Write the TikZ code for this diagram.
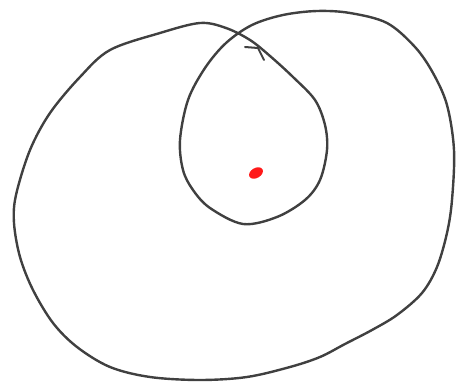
\documentclass[tikz,border=0pt]{standalone}
\begin{document}
\begin{tikzpicture}[x=1pt,y=-1pt]
  \useasboundingbox (0,0) rectangle (459,382);
  % Curva chiusa con anello interno
  \draw[line width=2.4pt, black!75, line cap=round, line join=round]
    plot[smooth cycle, tension=0.55] coordinates {
      (226,28) (200,23) (160,33) (110,50) (80,77) (50,113) (30,150)
      (16,195) (14,223) (20,257) (33,290) (53,323) (77,347) (110,367)
      (150,377) (200,380) (247,377) (290,367) (320,357) (345,344)
      (372,330) (397,315) (422,293) (437,267) (447,233) (452,200)
      (454,150) (447,105) (433,73) (415,47) (387,23) (350,13) (317,11)
      (283,15) (252,25) (226,43) (205,68) (188,100) (180,140) (183,170)
      (193,190) (210,208) (243,224) (277,217) (305,200) (320,180)
      (327,150) (325,125) (315,100) (293,77) (270,56) (250,40)
    };
  % Segno d'inizio del tratto
  \draw[line width=2pt, black!75, line cap=round]
    (245,47) -- (258,48) -- (264,60);
  % Punto rosso
  \fill[red!90!white, rotate around={30:(256,173)}] (256,173) ellipse (7.5pt and 5pt);
\end{tikzpicture}
\end{document}
